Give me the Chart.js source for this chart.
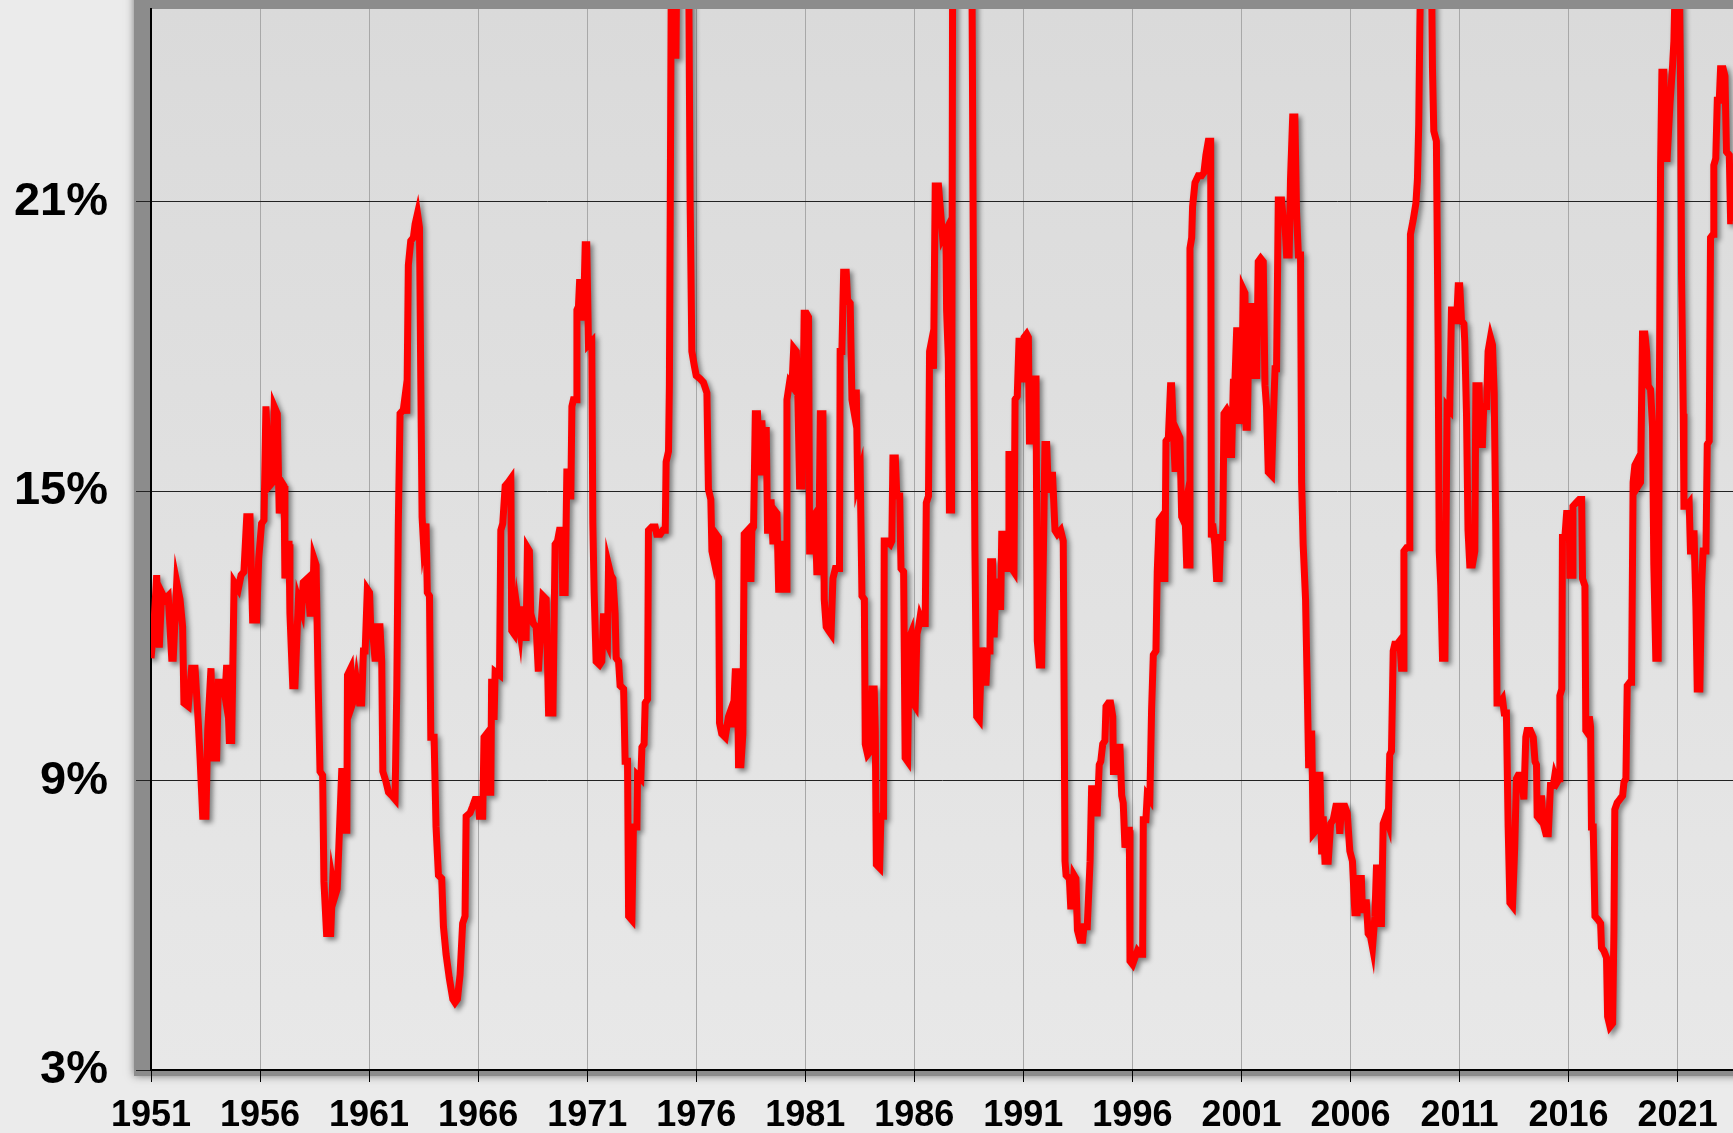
<!DOCTYPE html>
<html>
<head>
  <meta charset="utf-8" />
  <title>Rate 1951-2023</title>
  <script src="https://cdn.jsdelivr.net/npm/chart.js@4.4.0/dist/chart.umd.min.js"></script>
  <style>
    html, body { margin: 0; padding: 0; background: #ebebeb; }
    canvas { display: block; }
  </style>
</head>
<body>
<canvas id="rateChart" width="1733" height="1133"></canvas>

<script>
  // values (decimal year, percent); points above 25% are clipped in the original
  const years = [
    1951.00, 1951.11, 1951.26, 1951.38, 1951.49, 1951.64, 1951.79, 1951.95, 1952.02, 1952.18, 1952.33, 1952.45, 1952.51, 1952.71, 1952.86,
    1953.02, 1953.17, 1953.25, 1953.37, 1953.52, 1953.60, 1953.75, 1953.86, 1954.01, 1954.09, 1954.29, 1954.39, 1954.47, 1954.59, 1954.70,
    1954.81, 1955.00, 1955.13, 1955.26, 1955.39, 1955.54, 1955.66, 1955.84, 1955.94, 1956.07, 1956.18, 1956.27, 1956.43, 1956.58, 1956.65,
    1956.79, 1956.88, 1956.99, 1957.10, 1957.14, 1957.22, 1957.33, 1957.37, 1957.50, 1957.60, 1957.76, 1957.91, 1957.98, 1958.17, 1958.29,
    1958.40, 1958.47, 1958.57, 1958.67, 1958.75, 1958.87, 1958.93, 1959.05, 1959.24, 1959.33, 1959.44, 1959.54,
    1959.75, 1959.85, 1959.98, 1960.01, 1960.16, 1960.25, 1960.36, 1960.43, 1960.56, 1960.66, 1960.74, 1960.82, 1960.92, 1961.02, 1961.08,
    1961.20, 1961.28, 1961.38, 1961.50, 1961.58, 1961.63, 1961.78, 1961.89, 1962.04, 1962.19, 1962.27, 1962.34, 1962.42, 1962.57, 1962.65,
    1962.73, 1962.80, 1962.91, 1963.03, 1963.11, 1963.22, 1963.31, 1963.37, 1963.43, 1963.49, 1963.61, 1963.67, 1963.77, 1963.83, 1963.98,
    1964.07, 1964.18, 1964.33, 1964.41, 1964.53, 1964.68, 1964.84, 1964.94, 1965.05, 1965.17, 1965.29, 1965.40, 1965.45, 1965.63, 1965.75,
    1965.86, 1966.01, 1966.06, 1966.21, 1966.27, 1966.39, 1966.47, 1966.58, 1966.62, 1966.73, 1966.78, 1966.98, 1967.04, 1967.13, 1967.24,
    1967.39, 1967.50, 1967.54, 1967.65, 1967.77, 1967.92, 1968.00, 1968.08, 1968.20, 1968.26, 1968.35, 1968.41, 1968.53, 1968.66, 1968.76,
    1968.97, 1969.12, 1969.23, 1969.43, 1969.53, 1969.64, 1969.73, 1969.84, 1969.88, 1969.99, 1970.07, 1970.14, 1970.25, 1970.30, 1970.37,
    1970.50, 1970.53, 1970.60, 1970.65, 1970.71, 1970.76, 1970.83, 1970.91, 1970.98, 1971.06, 1971.21, 1971.26, 1971.32, 1971.41, 1971.57,
    1971.67, 1971.75, 1971.86, 1971.93, 1971.98, 1972.09, 1972.18, 1972.28, 1972.33, 1972.44, 1972.51, 1972.67, 1972.74, 1972.85, 1972.90,
    1973.05, 1973.12, 1973.28, 1973.31, 1973.46, 1973.51, 1973.61, 1973.66, 1973.77, 1973.81, 1973.96, 1974.12, 1974.19, 1974.35, 1974.47,
    1974.58, 1974.62, 1974.73, 1974.77, 1974.81, 1974.87, 1974.96, 1975.00, 1975.07, 1975.14, 1975.34, 1975.57, 1975.66, 1975.72, 1975.80,
    1975.91, 1976.00, 1976.18, 1976.33, 1976.49, 1976.56, 1976.67, 1976.72, 1976.79, 1976.91, 1977.02, 1977.07, 1977.17, 1977.33, 1977.48,
    1977.59, 1977.68, 1977.79, 1977.89, 1977.94, 1978.05,
    1978.14, 1978.20, 1978.36, 1978.45, 1978.51, 1978.55, 1978.63, 1978.71, 1978.81, 1978.91, 1979.01, 1979.12, 1979.21, 1979.27, 1979.36,
    1979.43, 1979.52, 1979.58, 1979.70, 1979.78, 1979.88, 1979.93, 1980.01, 1980.13, 1980.16, 1980.28, 1980.39, 1980.47, 1980.59, 1980.65,
    1980.74, 1980.85, 1980.95, 1981.05, 1981.15, 1981.20, 1981.31, 1981.35, 1981.46, 1981.53, 1981.61, 1981.69, 1981.81, 1981.87, 1981.96,
    1982.07, 1982.18, 1982.27, 1982.38, 1982.57, 1982.60, 1982.68, 1982.76, 1982.88, 1982.94, 1983.06, 1983.14, 1983.25, 1983.34, 1983.40,
    1983.52, 1983.60, 1983.71, 1983.75, 1983.86, 1983.98, 1984.06, 1984.16, 1984.21, 1984.26, 1984.41, 1984.47, 1984.59, 1984.62, 1984.74,
    1984.90, 1984.97, 1985.02, 1985.13, 1985.20, 1985.33, 1985.39, 1985.51, 1985.58, 1985.69, 1985.78, 1985.84, 1985.94, 1986.04, 1986.12,
    1986.20, 1986.27, 1986.39, 1986.50, 1986.55, 1986.65, 1986.70, 1986.76, 1986.88, 1986.96, 1987.11,
    1987.30, 1987.45, 1987.48, 1987.56, 1987.61, 1987.71, 1987.76, 1988.10, 1988.63, 1988.71, 1988.78, 1988.86, 1988.98, 1989.09, 1989.20,
    1989.29, 1989.35, 1989.47, 1989.50, 1989.59, 1989.66, 1989.75, 1989.85, 1989.96, 1990.01, 1990.11, 1990.19, 1990.31, 1990.34, 1990.42,
    1990.47, 1990.57, 1990.62, 1990.72, 1990.80, 1990.92, 1990.97, 1991.03, 1991.15, 1991.23, 1991.28, 1991.38, 1991.46, 1991.58, 1991.64,
    1991.73, 1991.84, 1991.92, 1991.99, 1992.07, 1992.15, 1992.22, 1992.34, 1992.45, 1992.56, 1992.71, 1992.83, 1992.91, 1992.96, 1993.11,
    1993.17, 1993.26, 1993.32, 1993.41, 1993.48, 1993.60, 1993.72, 1993.78, 1993.93, 1994.06, 1994.13, 1994.24, 1994.29, 1994.39, 1994.48,
    1994.55, 1994.64, 1994.74, 1994.79, 1994.90, 1995.00, 1995.10, 1995.13, 1995.25, 1995.36, 1995.43, 1995.51, 1995.58, 1995.66, 1995.77,
    1995.86, 1995.89, 1996.01, 1996.12, 1996.23, 1996.35,
    1996.47, 1996.50, 1996.62, 1996.68, 1996.80, 1996.88, 1996.96, 1997.08, 1997.14, 1997.23, 1997.34, 1997.42, 1997.49, 1997.54, 1997.65,
    1997.75, 1997.80, 1997.95, 1998.03, 1998.10, 1998.18, 1998.26, 1998.33, 1998.41, 1998.49, 1998.61, 1998.64, 1998.72, 1998.76, 1998.87,
    1999.02, 1999.17, 1999.28, 1999.37, 1999.48, 1999.59, 1999.62, 1999.68, 1999.78, 1999.86, 1999.98, 2000.04, 2000.14, 2000.20, 2000.32,
    2000.40, 2000.47, 2000.55, 2000.63, 2000.70, 2000.78, 2000.87, 2000.90, 2001.01, 2001.08, 2001.16, 2001.21, 2001.27, 2001.36, 2001.47,
    2001.54, 2001.62, 2001.70, 2001.77, 2001.88, 2002.00, 2002.08, 2002.15, 2002.23, 2002.38, 2002.46, 2002.54, 2002.61, 2002.69, 2002.84,
    2002.92, 2002.99, 2003.07, 2003.19, 2003.25, 2003.35, 2003.45, 2003.53, 2003.61, 2003.71, 2003.76, 2003.83, 2003.94, 2004.02, 2004.08,
    2004.17, 2004.22, 2004.29, 2004.42, 2004.48, 2004.60, 2004.68, 2004.75, 2004.83, 2004.98, 2005.09, 2005.21, 2005.33, 2005.44,
    2005.51, 2005.59, 2005.74, 2005.85, 2005.97, 2006.09, 2006.20, 2006.31, 2006.40, 2006.50, 2006.55, 2006.61, 2006.73, 2006.81, 2006.92,
    2007.01, 2007.12, 2007.19, 2007.27, 2007.34, 2007.42, 2007.50, 2007.62, 2007.73, 2007.80, 2007.88, 2007.96, 2008.03, 2008.14, 2008.26,
    2008.34, 2008.41, 2008.45, 2008.57, 2008.69, 2008.72, 2008.75, 2008.87, 2009.00, 2009.07, 2009.13, 2009.18, 2009.26, 2009.64, 2009.71,
    2009.76, 2009.82, 2009.94, 2010.02, 2010.07, 2010.14, 2010.22, 2010.33, 2010.40, 2010.43, 2010.55, 2010.63, 2010.78, 2010.86, 2010.94,
    2011.01, 2011.09, 2011.20, 2011.24, 2011.32, 2011.39, 2011.47, 2011.59, 2011.70, 2011.75, 2011.90, 2011.96, 2012.05, 2012.11, 2012.24,
    2012.31, 2012.42, 2012.51, 2012.59, 2012.66, 2012.72, 2012.85, 2012.97, 2013.05, 2013.15, 2013.23, 2013.31, 2013.43, 2013.53, 2013.61,
    2013.69, 2013.84, 2013.95, 2014.04, 2014.10, 2014.25,
    2014.38, 2014.46, 2014.53, 2014.56, 2014.69, 2014.76, 2014.84, 2014.96, 2015.07, 2015.17, 2015.30, 2015.37, 2015.48, 2015.57, 2015.60,
    2015.69, 2015.72, 2015.83, 2015.91, 2016.03, 2016.06, 2016.17, 2016.20, 2016.34, 2016.49, 2016.60, 2016.64, 2016.75, 2016.79, 2016.90,
    2016.95, 2017.01, 2017.05, 2017.13, 2017.21, 2017.36, 2017.47, 2017.51, 2017.62, 2017.74, 2017.79, 2017.90, 2018.02, 2018.08, 2018.12,
    2018.23, 2018.35, 2018.48, 2018.54, 2018.63, 2018.69, 2018.81, 2018.89, 2018.96, 2019.04, 2019.12, 2019.19, 2019.30, 2019.39, 2019.50,
    2019.58, 2019.65, 2019.76, 2019.85, 2019.91, 2020.00, 2020.11, 2020.16, 2020.22, 2020.28, 2020.37, 2020.42, 2020.52, 2020.65, 2020.77,
    2020.83, 2020.91, 2021.07, 2021.14, 2021.18, 2021.26, 2021.29, 2021.41, 2021.53, 2021.59, 2021.69, 2021.75, 2021.84, 2021.90, 2022.02,
    2022.10, 2022.17, 2022.30, 2022.36, 2022.45, 2022.51, 2022.63, 2022.66, 2022.75, 2022.82, 2022.91, 2022.97, 2023.09, 2023.17, 2023.24,
    2023.37, 2023.43, 2023.53
  ];

  const rates = [
    11.54, 12.04, 13.26, 11.76, 12.90, 12.76, 12.83, 11.54, 11.54, 13.11, 12.76, 12.19, 10.61, 10.54, 11.33,
    11.33, 10.19, 9.47, 8.26, 8.26, 10.04, 11.33, 9.47, 9.47, 11.04, 11.04, 10.76, 11.40, 9.83, 9.83,
    13.11, 12.97, 13.26, 13.33, 14.47, 14.47, 12.33, 12.33, 13.61, 14.33, 14.40, 16.76, 15.11, 15.19, 16.76,
    16.61, 14.54, 15.19, 15.11, 13.19, 13.90, 13.90, 12.47, 10.97, 10.97, 12.76, 12.54, 13.11, 13.19, 12.47,
    12.47, 13.61, 13.47, 10.90, 9.19, 9.11, 6.90, 5.83, 5.83, 6.90, 6.61, 6.76,
    9.26, 7.97, 7.97, 11.19, 11.33, 10.61, 10.76, 11.04, 10.61, 10.61, 11.69, 11.69, 12.97, 12.90, 12.11,
    11.90, 11.47, 12.19, 12.19, 11.47, 9.19, 8.97, 8.76, 8.69, 8.61, 10.90, 14.33, 16.61, 16.69, 16.97,
    16.61, 19.69, 20.19, 20.26, 20.54, 20.76, 20.47, 17.33, 14.47, 13.97, 14.33, 12.90, 12.83, 9.90, 9.90,
    8.04, 7.04, 6.97, 5.97, 5.40, 4.90, 4.47, 4.40, 4.47, 4.97, 6.04, 6.19, 8.26, 8.33, 8.47,
    8.61, 8.61, 8.26, 8.26, 9.90, 9.97, 8.76, 8.76, 11.11, 10.26, 11.26, 11.19, 14.19, 14.33, 15.11,
    15.19, 15.26, 12.11, 12.04, 12.61, 12.11, 12.61, 11.97, 11.97, 13.83, 13.76, 12.47, 12.26, 12.19, 11.26,
    12.83, 12.76, 10.40, 10.40, 13.90, 13.97, 14.19, 14.19, 12.90, 12.90, 15.47, 14.90, 14.90, 16.76, 16.90,
    16.90, 18.76, 18.83, 19.33, 19.33, 18.61, 18.61, 20.11, 20.11, 18.04, 18.11, 14.33, 12.90, 11.47, 11.40,
    11.47, 12.47, 11.90, 11.83, 13.47, 13.26, 13.19, 12.47, 11.54, 11.47, 10.97, 10.90, 9.40, 9.40, 6.19,
    6.11, 8.04, 8.04, 9.11, 9.04, 9.69, 9.76, 10.61, 10.69, 14.19, 14.26, 14.26, 14.11, 14.11, 14.19,
    14.19, 15.61, 15.83, 17.19, 20.90, 27.00, 26.00, 24.04, 24.04, 27.50, 29.00, 27.50, 25.50, 21.04, 17.90,
    17.61, 17.40, 17.33, 17.26, 17.04, 15.04, 14.83, 13.76, 13.61, 14.11, 14.04, 10.19, 9.97, 9.90, 10.33,
    10.47, 10.11, 11.26, 11.26, 9.33, 9.33,
    9.97, 14.11, 14.19, 13.19, 13.19, 14.19, 14.26, 16.61, 16.61, 15.33, 16.47, 15.33, 16.33, 14.19, 14.19,
    14.83, 13.90, 14.61, 14.54, 12.97, 12.97, 13.97, 12.97, 12.97, 16.90, 17.26, 17.19, 17.97, 17.90, 17.19,
    15.11, 15.11, 18.69, 18.69, 18.61, 13.76, 13.76, 14.47, 14.54, 13.33, 13.33, 16.61, 16.61, 12.76, 12.19,
    12.11, 12.04, 13.19, 13.40, 13.40, 17.90, 17.90, 19.54, 19.54, 18.97, 18.90, 16.90, 16.61, 17.11, 15.19,
    15.40, 12.83, 12.76, 9.76, 9.54, 9.61, 10.90, 10.90, 10.04, 7.26, 7.19, 8.26, 8.26, 13.97, 13.97,
    13.90, 13.97, 15.69, 15.69, 14.90, 14.90, 13.40, 13.33, 9.47, 9.40, 11.97, 12.04, 10.61, 10.54, 12.04,
    12.19, 12.40, 12.26, 12.26, 14.76, 14.90, 17.90, 18.04, 17.54, 21.33, 21.33,
    20.26, 20.40, 18.76, 17.76, 14.61, 14.61, 26.50, 28.00, 27.00, 19.47, 13.76, 10.33, 10.26, 11.76, 11.04,
    11.04, 11.69, 11.69, 13.54, 13.54, 11.97, 13.19, 12.61, 12.61, 14.11, 14.11, 13.40, 13.40, 15.76, 15.76,
    13.40, 13.33, 16.90, 16.97, 18.11, 18.11, 17.26, 18.19, 18.26, 18.19, 16.04, 16.04, 17.33, 17.33, 11.90,
    11.40, 11.40, 13.76, 15.97, 15.97, 14.97, 15.33, 15.33, 14.19, 14.11, 14.19, 13.97, 7.33, 7.04, 6.97,
    6.40, 6.40, 7.04, 6.97, 5.90, 5.69, 5.69, 5.97, 5.97, 7.33, 8.83, 8.83, 8.33, 8.33, 9.33,
    9.40, 9.76, 9.83, 10.54, 10.61, 10.61, 10.33, 9.19, 9.19, 9.69, 9.69, 8.69, 8.54, 7.61, 7.97,
    7.97, 5.26, 5.19, 5.33, 5.47, 5.40,
    5.40, 8.19, 8.19, 8.69, 8.61, 10.47, 11.61, 11.69, 13.33, 14.40, 14.47, 13.19, 13.19, 16.04, 16.11,
    17.19, 17.19, 15.47, 15.47, 16.19, 16.11, 14.47, 14.40, 14.61, 13.47, 13.47, 20.04, 20.26, 20.90, 21.40,
    21.54, 21.54, 21.61, 21.97, 22.26, 22.26, 14.04, 14.33, 13.90, 13.19, 13.19, 14.04, 14.04, 16.61, 16.69,
    16.61, 15.76, 15.76, 17.26, 17.26, 18.33, 18.33, 16.40, 16.76, 19.19, 19.11, 16.33, 16.33, 18.83, 18.83,
    18.47, 17.40, 17.40, 19.76, 19.83, 19.76, 17.19, 16.76, 15.40, 15.33, 16.47, 17.54, 17.54, 21.04, 21.04,
    20.61, 20.61, 19.90, 19.90, 21.47, 22.76, 22.76, 20.76, 19.90, 19.90, 15.19, 13.90, 12.76, 10.90, 9.33,
    9.33, 10.04, 7.90, 7.97, 9.11, 9.11, 7.47, 8.26, 7.33, 7.33, 8.11, 8.19, 8.47, 8.47,
    7.90, 8.47, 8.47, 8.33, 7.54, 7.33, 6.26, 6.26, 6.97, 6.97, 6.26, 6.47, 6.47, 5.83, 5.76,
    5.54, 6.19, 7.19, 7.19, 6.04, 6.04, 8.11, 8.26, 8.11, 9.54, 9.61, 11.69, 11.83, 11.83, 11.90,
    11.33, 11.33, 13.76, 13.83, 13.83, 15.76, 20.33, 20.61, 20.97, 21.47, 22.61, 24.61, 27.00, 27.50, 26.00,
    23.76, 22.47, 22.26, 18.04, 13.76, 13.04, 11.54, 11.54, 15.19, 16.76, 16.69, 18.76, 18.76, 18.47, 19.26,
    19.26, 18.54, 18.47, 18.11, 16.61, 14.19, 13.47, 13.47, 13.76, 17.19, 17.19, 15.97, 15.97, 16.76, 16.76,
    17.90, 18.19, 18.04, 17.04, 14.33, 10.61, 10.61, 10.69, 10.40, 10.40, 8.04, 6.47, 6.40, 7.61, 9.04,
    9.11, 9.11, 8.61, 9.90, 10.04, 10.04,
    9.90, 9.40, 9.33, 8.26, 8.19, 8.69, 8.11, 7.90, 7.90, 8.90, 8.90, 9.11, 8.97, 9.04, 10.76,
    10.90, 14.04, 14.04, 14.54, 14.54, 13.26, 13.26, 14.69, 14.76, 14.83, 14.83, 13.19, 13.04, 10.04, 9.97,
    10.33, 10.11, 8.04, 8.04, 6.19, 6.11, 6.04, 5.54, 5.47, 5.33, 4.11, 3.90, 3.97, 5.90, 8.40,
    8.54, 8.61, 8.69, 8.97, 9.04, 10.97, 11.04, 11.04, 15.19, 15.54, 15.61, 15.11, 15.19, 18.26, 18.26,
    17.90, 17.19, 17.11, 16.33, 13.47, 11.54, 11.54, 16.61, 21.76, 23.69, 23.69, 21.90, 21.90, 23.04, 23.83,
    24.33, 26.00, 26.00, 23.33, 19.47, 16.61, 14.69, 14.69, 14.76, 13.76, 13.76, 14.19, 12.61, 10.90, 10.90,
    13.04, 13.76, 13.76, 15.97, 16.04, 20.26, 20.33, 21.76, 21.90, 23.11, 23.11, 23.76, 23.76, 23.61, 22.04,
    21.97, 20.61, 20.61
  ];

  const yearTicks = [1951, 1956, 1961, 1966, 1971, 1976, 1981, 1986, 1991, 1996, 2001, 2006, 2011, 2016, 2021];
  const rateTicks = [3, 9, 15, 21];

  const xMin = 1951;
  const xMax = 2023.54;
  const yMin = 3;
  const yMax = 25;

  const fontFamily = '"Liberation Sans", Arial, sans-serif';

  // grey page, shadowed panel behind the plot area, light gradient inside it
  const panelBackground = {
    id: 'panelBackground',
    beforeDraw(chart) {
      const ctx = chart.ctx;
      const a = chart.chartArea;
      ctx.save();
      ctx.fillStyle = '#ebebeb';
      ctx.fillRect(0, 0, chart.width, chart.height);
      ctx.shadowColor = 'rgba(110,110,110,0.9)';
      ctx.shadowBlur = 8;
      ctx.fillStyle = '#8c8c8c';
      ctx.fillRect(a.left - 17, a.top - 30, a.width + 40, a.height + 36);
      ctx.restore();

      const g = ctx.createLinearGradient(0, a.top, 0, a.bottom);
      g.addColorStop(0, '#dadada');
      g.addColorStop(1, '#e8e8e8');
      ctx.fillStyle = g;
      ctx.fillRect(a.left, a.top, a.width, a.height);
    }
  };

  // soft drop shadow under the red line
  const lineShadow = {
    id: 'lineShadow',
    beforeDatasetsDraw(chart) {
      const ctx = chart.ctx;
      ctx.save();
      ctx.shadowColor = 'rgba(0,0,0,0.45)';
      ctx.shadowBlur = 5;
      ctx.shadowOffsetX = 3;
      ctx.shadowOffsetY = 3;
    },
    afterDatasetsDraw(chart) {
      chart.ctx.restore();
    }
  };

  new Chart(document.getElementById('rateChart'), {
    type: 'line',
    data: {
      datasets: [{
        data: years.map((x, i) => ({ x: x, y: rates[i] })),
        borderColor: '#ff0000',
        borderWidth: 7,
        pointRadius: 0,
        tension: 0,
        clip: 0,
        borderJoinStyle: 'miter'
      }]
    },
    options: {
      responsive: false,
      animation: false,
      devicePixelRatio: 1,
      layout: { padding: { top: 9, left: 0, right: 0, bottom: 0 } },
      plugins: {
        legend: { display: false },
        tooltip: { enabled: false }
      },
      scales: {
        x: {
          type: 'linear',
          min: xMin,
          max: xMax,
          afterBuildTicks: s => { s.ticks = yearTicks.map(v => ({ value: v })); },
          afterFit: s => { s.height = 63; s.paddingLeft = 0; s.paddingRight = 0; },
          grid: { color: '#a8a8a8', lineWidth: 1, tickLength: 12, tickColor: '#000' },
          border: { color: '#000', width: 2 },
          ticks: {
            callback: v => String(v),
            color: '#000',
            font: { family: fontFamily, size: 36, weight: 'bold' },
            padding: 12,
            maxRotation: 0,
            autoSkip: false
          }
        },
        y: {
          min: yMin,
          max: yMax,
          afterBuildTicks: s => { s.ticks = rateTicks.map(v => ({ value: v })); },
          afterFit: s => { s.width = 151; s.paddingTop = 0; s.paddingBottom = 0; },
          grid: { color: '#222', lineWidth: 1, tickLength: 15, tickColor: '#222' },
          border: { color: '#000', width: 2 },
          ticks: {
            callback: v => v + '%',
            color: '#000',
            font: { family: fontFamily, size: 47, weight: 'bold' },
            padding: 28
          }
        }
      }
    },
    plugins: [panelBackground, lineShadow]
  });
</script>

</body>
</html>
